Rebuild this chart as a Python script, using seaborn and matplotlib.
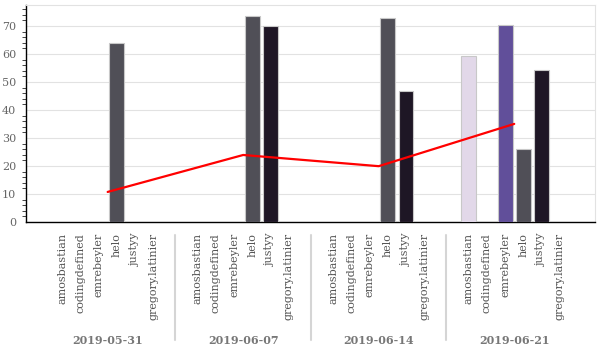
import matplotlib

matplotlib.use("Agg")
import matplotlib.pyplot as plt
import matplotlib.transforms as mtransforms
import numpy as np
import pandas as pd
import seaborn as sns
from matplotlib.ticker import MultipleLocator

dates = ["2019-05-31", "2019-06-07", "2019-06-14", "2019-06-21"]
names = ["amosbastian", "codingdefined", "emrebeyler", "helo", "justyy", "gregory.latinier"]

# one row per date, one column per name
values = [
    [0, 0, 0, 64.0, 0, 0],
    [0, 0, 0, 73.5, 69.8, 0],
    [0, 0, 0, 72.8, 46.8, 0],
    [59.3, 0, 70.5, 26.2, 54.2, 0],
]
line_values = [10.7, 23.9, 19.9, 35.0]

colors = {
    "amosbastian": "#e2d5ec",
    "codingdefined": "#b9a6d6",
    "emrebeyler": "#5b43a6",
    "helo": "#4f4e58",
    "justyy": "#1e1328",
    "gregory.latinier": "#888888",
}

group_step = 7.45

rows = []
for g, date in enumerate(dates):
    for i, name in enumerate(names):
        rows.append(
            {"date": date, "name": name, "pos": g * group_step + i, "value": values[g][i]}
        )
df = pd.DataFrame(rows)
centers = [g * group_step + (len(names) - 1) / 2 for g in range(len(dates))]

sns.set_style("white")
plt.rcParams["font.family"] = ["DejaVu Serif"]

fig = plt.figure(figsize=(6, 3.5), dpi=100)
ax = fig.add_axes([0.043, 0.366, 0.949, 0.62])

sns.barplot(
    data=df[df["value"] > 0],
    x="pos",
    y="value",
    hue="name",
    palette=colors,
    native_scale=True,
    dodge=False,
    width=0.82,
    edgecolor="#c8c8c8",
    linewidth=0.8,
    legend=False,
    ax=ax,
    zorder=3,
)
sns.lineplot(x=centers, y=line_values, color="red", linewidth=1.6, ax=ax, zorder=4)

ax.set_xlim(-2, 29.3)
ax.set_ylim(0, 77.5)
ax.set_xlabel("")
ax.set_ylabel("")

ax.set_xticks(df["pos"])
ax.set_xticklabels(df["name"], rotation=90, fontsize=8, color="#555555")
ax.tick_params(axis="x", direction="out", length=5, color="black", pad=3)
ax.yaxis.set_major_locator(MultipleLocator(10))
ax.yaxis.set_minor_locator(MultipleLocator(2))
ax.tick_params(axis="y", which="major", direction="out", length=5, labelsize=8,
               labelcolor="#666666", pad=2)
ax.tick_params(axis="y", which="minor", direction="out", length=3, left=True)
ax.grid(axis="y", color="#e2e2e2", linewidth=0.8, zorder=0)
ax.set_axisbelow(True)

for side in ["top", "right"]:
    ax.spines[side].set_color("#e2e2e2")
for side in ["left", "bottom"]:
    ax.spines[side].set_color("black")
    ax.spines[side].set_linewidth(1.0)

trans = mtransforms.blended_transform_factory(ax.transData, fig.transFigure)
for g, date in enumerate(dates):
    ax.text(centers[g], 0.028, date, transform=trans, ha="center", va="center",
            fontsize=8, fontweight="bold", color="#777777")
    if g > 0:
        sep = g * group_step - (group_step - len(names) + 1) / 2
        ax.plot([sep, sep], [1 - 340 / 350, 1 - 235 / 350], transform=trans,
                color="#d5d5d5", linewidth=1.5, clip_on=False)

fig.savefig("out.png", dpi=100)
